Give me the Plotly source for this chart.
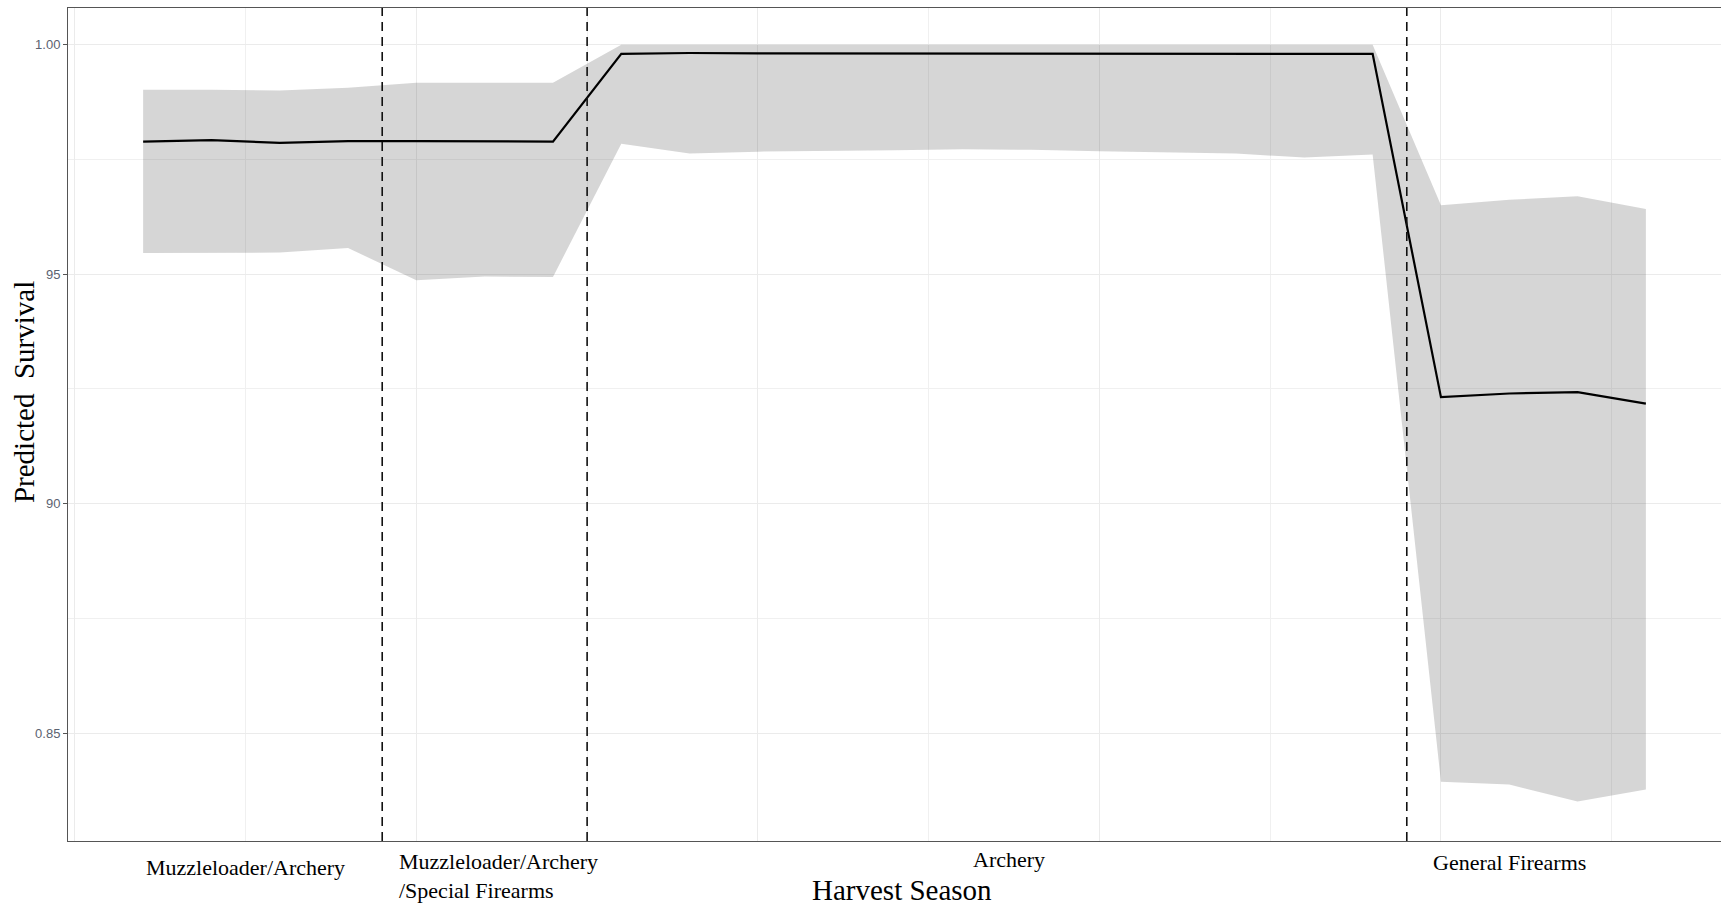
import plotly.graph_objects as go

# ---- data ----
weeks = list(range(1, 24))
survival_mean = [0.9789, 0.9792, 0.9786, 0.9790, 0.9790, 0.9790, 0.9789,
                 0.9980, 0.9982, 0.9981, 0.9981, 0.9981, 0.9981, 0.9981,
                 0.9980, 0.9980, 0.9980, 0.9980, 0.9980,
                 0.9232, 0.9240, 0.9243, 0.9218]
survival_upper = [0.9902, 0.9902, 0.9900, 0.9906, 0.9917, 0.9917, 0.9917,
                  1.0, 1.0, 1.0, 1.0, 1.0, 1.0, 1.0, 1.0, 1.0, 1.0, 1.0, 1.0,
                  0.9650, 0.9662, 0.9670, 0.9642]
survival_lower = [0.9546, 0.9547, 0.9547, 0.9557, 0.9487, 0.9495, 0.9494,
                  0.9784, 0.9763, 0.9767, 0.9768, 0.9770, 0.9772, 0.9771,
                  0.9768, 0.9766, 0.9763, 0.9754, 0.9761,
                  0.8394, 0.8388, 0.8351, 0.8377]
season_breaks = [4.5, 7.5, 19.5]
season_labels = ["Muzzleloader/Archery",
                 "Muzzleloader/Archery<br>/Special Firearms",
                 "Archery",
                 "General Firearms"]
y_tickvals = [0.85, 0.90, 0.95, 1.00]
y_ticktext = ["0.85", "90", "95", "1.00"]

SERIF = "Liberation Serif, Times New Roman, serif"

fig = go.Figure()
fig.add_trace(go.Scatter(x=weeks, y=survival_upper, mode="lines",
                         line=dict(width=0), showlegend=False, hoverinfo="skip"))
fig.add_trace(go.Scatter(x=weeks, y=survival_lower, mode="lines",
                         line=dict(width=0), fill="tonexty",
                         fillcolor="rgba(51,51,51,0.2)", showlegend=False,
                         hoverinfo="skip"))
fig.add_trace(go.Scatter(x=weeks, y=survival_mean, mode="lines",
                         line=dict(color="black", width=2.2), showlegend=False))

for xb in season_breaks:
    fig.add_shape(type="line", xref="x", yref="paper", x0=xb, x1=xb, y0=0, y1=1,
                  line=dict(color="#111111", width=1.6, dash="9px,6px"),
                  layer="above")

# category labels
fig.add_annotation(x=2.5, y=-0.0324, xref="x", yref="paper", text=season_labels[0],
                   showarrow=False, xanchor="center", yanchor="middle",
                   font=dict(family=SERIF, size=22, color="black"))
fig.add_annotation(x=4.72, y=-0.042, xref="x", yref="paper", text=season_labels[1],
                   showarrow=False, xanchor="left", yanchor="middle", align="left",
                   font=dict(family=SERIF, size=22, color="black"))
fig.add_annotation(x=13.68, y=-0.0228, xref="x", yref="paper", text=season_labels[2],
                   showarrow=False, xanchor="center", yanchor="middle",
                   font=dict(family=SERIF, size=22, color="black"))
fig.add_annotation(x=21.0, y=-0.0264, xref="x", yref="paper", text=season_labels[3],
                   showarrow=False, xanchor="center", yanchor="middle",
                   font=dict(family=SERIF, size=22, color="black"))

# axis titles
fig.add_annotation(x=0.5045, y=-0.0588, xref="paper", yref="paper", text="Harvest Season",
                   showarrow=False, xanchor="center", yanchor="middle",
                   font=dict(family=SERIF, size=29, color="black"))
fig.add_annotation(x=-0.0266, y=0.539, xref="paper", yref="paper", text="Predicted  Survival",
                   showarrow=False, xanchor="center", yanchor="middle", textangle=-90,
                   font=dict(family=SERIF, size=29, color="black"))

fig.update_layout(
    width=1721, height=906,
    margin=dict(l=68, r=0, t=8, b=65),
    paper_bgcolor="white", plot_bgcolor="white",
    xaxis=dict(range=[-0.1, 24.1], tickvals=[0, 5, 10, 15, 20], showticklabels=False,
               ticks="", showgrid=True, gridcolor="#ebebeb", gridwidth=1.2,
               minor=dict(tickvals=[2.5, 7.5, 12.5, 17.5, 22.5], showgrid=True,
                          gridcolor="#f0f0f0", gridwidth=0.8),
               showline=True, linecolor="#555555", linewidth=1, mirror=True,
               zeroline=False),
    yaxis=dict(range=[0.8265, 1.008], tickvals=y_tickvals, ticktext=y_ticktext,
               ticks="outside", ticklen=4, tickcolor="#555555",
               tickfont=dict(family="Liberation Sans, Arial, sans-serif", size=13,
                             color="#5b6270"),
               showgrid=True, gridcolor="#ebebeb", gridwidth=1.2,
               minor=dict(tickvals=[0.875, 0.925, 0.975], showgrid=True,
                          gridcolor="#f0f0f0", gridwidth=0.8),
               showline=True, linecolor="#555555", linewidth=1, mirror=True,
               zeroline=False),
)

fig.write_html("out.html")
